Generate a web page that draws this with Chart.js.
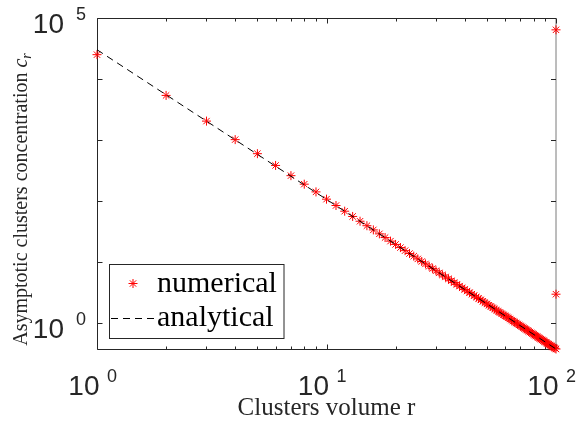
<!DOCTYPE html>
<html>
<head>
<meta charset="utf-8">
<script src="https://cdn.jsdelivr.net/npm/chart.js@4/dist/chart.umd.min.js"></script>
<style>
html,body{margin:0;padding:0;background:#ffffff;}
#wrap{width:579px;height:437px;position:relative;}
canvas{display:block;}
</style>
</head>
<body>
<div id="wrap"><canvas id="c" width="579" height="437" style="width:579px;height:437px"></canvas></div>
<script>
// ---------------- data ----------------
const clusterVolume = [
  1,2,3,4,5,6,7,8,9,10,
  11,12,13,14,15,16,17,18,19,20,
  21,22,23,24,25,26,27,28,29,30,
  31,32,33,34,35,36,37,38,39,40,
  41,42,43,44,45,46,47,48,49,50,
  51,52,53,54,55,56,57,58,59,60,
  61,62,63,64,65,66,67,68,69,70,
  71,72,73,74,75,76,77,78,79,80,
  81,82,83,84,85,86,87,88,89,90,
  91,92,93,94,95,96,97,98,99,100
];
const numericalConc = [
  25100,5400,2050,1020,600,385,262,190,142,108,
  85.0,68.6,56.3,47.0,39.7,33.9,29.2,25.4,22.2,19.6,
  17.4,15.5,13.9,12.6,11.35,10.3,9.40,8.60,7.89,7.26,
  6.70,6.20,5.75,5.35,4.98,4.65,4.34,4.07,3.82,3.59,
  3.38,3.18,3.01,2.84,2.69,2.55,2.42,2.30,2.18,2.08,
  1.98,1.89,1.80,1.72,1.64,1.57,1.51,1.44,1.38,1.33,
  1.28,1.23,1.18,1.13,1.09,1.05,1.01,0.978,0.944,0.911,
  0.880,0.850,0.822,0.795,0.769,0.745,0.721,0.699,0.677,0.657,
  0.637,0.618,0.600,0.583,0.566,0.550,0.535,0.520,0.506,0.492,
  0.479,0.466,0.454,0.442,0.431,0.420,0.410,0.399,0.390,0.380
];
// extra numerical points that sit on the right edge (r = 100)
const edgeVolume = [100, 100];
const edgeConc = [64000, 3.0];

const analyticalVolume = [1, 2, 5, 10, 20, 50, 100];
const analyticalConc = [30200, 5530, 585, 107, 19.6, 2.08, 0.38];

const seriesLabels = ['numerical', 'analytical'];
const xTitle = 'Clusters volume r';
const yTitleText = 'Asymptotic clusters concentration ';
const yTitleSymbol = 'c';
const yTitleSub = 'r';

const xMajorTicks = [1, 10, 100];
const xMajorExp = ['0', '1', '2'];
const xMinorTicks = [2,3,4,5,6,7,8,9,20,30,40,50,60,70,80,90];
const yTicks = [1, 10, 100, 1000, 10000, 100000];
const yLabelTicks = [1, 100000];
const yLabelExp = ['0', '5'];

const xRange = [1, 100];
const yRange = [0.38, 100000];

// ---------------- build datasets ----------------
const numericalPoints = clusterVolume.map((r, i) => ({x: r, y: numericalConc[i]}))
  .concat(edgeVolume.map((r, i) => ({x: r, y: edgeConc[i]})));
const analyticalPoints = analyticalVolume.map((r, i) => ({x: r, y: analyticalConc[i]}));

const INK = '#262626';

const matlabAxes = {
  id: 'matlabAxes',
  beforeDatasetsDraw(chart) {
    const {ctx, chartArea: a, scales: {x, y}} = chart;
    ctx.save();
    ctx.strokeStyle = INK;
    ctx.lineWidth = 1;
    const L = a.left + 0.5, T = a.top + 0.5, R = a.right, B = a.bottom + 0.5;
    ctx.beginPath();
    ctx.moveTo(L, T); ctx.lineTo(R, T);
    ctx.moveTo(L, T); ctx.lineTo(L, B);
    ctx.moveTo(L, B); ctx.lineTo(R, B);
    ctx.stroke();
    ctx.beginPath();
    ctx.strokeStyle = '#7a7a7a';
    ctx.moveTo(R, T - 0.5); ctx.lineTo(R, B + 0.5);
    ctx.stroke();
    ctx.strokeStyle = INK;
    // x ticks
    ctx.beginPath();
    xMajorTicks.forEach(v => {
      const px = Math.round(x.getPixelForValue(v)) + 0.5;
      ctx.moveTo(px, B); ctx.lineTo(px, B - 5);
      ctx.moveTo(px, T); ctx.lineTo(px, T + 5);
    });
    xMinorTicks.forEach(v => {
      const px = Math.round(x.getPixelForValue(v)) + 0.5;
      ctx.moveTo(px, B); ctx.lineTo(px, B - 3);
      ctx.moveTo(px, T); ctx.lineTo(px, T + 3);
    });
    // y ticks
    yTicks.forEach(v => {
      const py = Math.round(y.getPixelForValue(v)) + 0.5;
      ctx.moveTo(L, py); ctx.lineTo(L + 5, py);
      ctx.moveTo(R, py); ctx.lineTo(R - 5, py);
    });
    ctx.stroke();

    // tick labels
    ctx.fillStyle = INK;
    ctx.textBaseline = 'alphabetic';
    xMajorTicks.forEach((v, i) => {
      const px = x.getPixelForValue(v);
      ctx.font = '28px "Liberation Sans", Arial, sans-serif';
      ctx.textAlign = 'right';
      ctx.fillText('10', px + 2.5, a.bottom + 46);
      ctx.font = '18px "Liberation Sans", Arial, sans-serif';
      ctx.textAlign = 'left';
      ctx.fillText(xMajorExp[i], px + 10, a.bottom + 33);
    });
    yLabelTicks.forEach((v, i) => {
      const py = y.getPixelForValue(v);
      ctx.font = '28px "Liberation Sans", Arial, sans-serif';
      ctx.textAlign = 'right';
      ctx.fillText('10', a.left - 33, py + 15);
      ctx.font = '18px "Liberation Sans", Arial, sans-serif';
      ctx.fillText(yLabelExp[i], a.left - 11, py + 2);
    });

    // x title
    ctx.font = '25px "Liberation Serif", "Times New Roman", serif';
    ctx.textAlign = 'center';
    ctx.fillText(xTitle, (a.left + a.right) / 2, 415);

    // y title (rotated) with italic c and subscript r
    ctx.save();
    ctx.translate(27, (a.top + a.bottom) / 2 + 16);
    ctx.rotate(-Math.PI / 2);
    const fMain = '20px "Liberation Serif", "Times New Roman", serif';
    const fIt = 'italic 20px "Liberation Serif", "Times New Roman", serif';
    const fSub = 'italic 14px "Liberation Serif", "Times New Roman", serif';
    ctx.font = fMain; const w1 = ctx.measureText(yTitleText).width;
    ctx.font = fIt; const w2 = ctx.measureText(yTitleSymbol).width;
    ctx.font = fSub; const w3 = ctx.measureText(yTitleSub).width;
    const tot = w1 + w2 + w3;
    let sx = -tot / 2;
    ctx.textAlign = 'left';
    ctx.font = fMain; ctx.fillText(yTitleText, sx, 0); sx += w1;
    ctx.font = fIt; ctx.fillText(yTitleSymbol, sx, 0); sx += w2;
    ctx.font = fSub; ctx.fillText(yTitleSub, sx, 4);
    ctx.restore();
    ctx.restore();
  },
  afterDatasetsDraw(chart) {
    const {ctx} = chart;
    ctx.save();
    // legend box
    const bx = 109.5, by = 264.5, bw = 174.5, bh = 74;
    ctx.fillStyle = '#ffffff';
    ctx.fillRect(bx, by, bw, bh);
    ctx.strokeStyle = INK;
    ctx.lineWidth = 1;
    ctx.strokeRect(bx, by, bw, bh);
    // numerical entry
    ctx.strokeStyle = '#ff0000';
    Chart.helpers.drawPoint(ctx, {pointStyle: 'star', radius: 4.5, rotation: 0, borderWidth: 1}, 133, 283.5);
    // analytical entry
    ctx.strokeStyle = '#000000';
    ctx.setLineDash([7, 5]);
    ctx.beginPath();
    ctx.moveTo(111, 318.5); ctx.lineTo(155, 318.5);
    ctx.stroke();
    ctx.setLineDash([]);
    ctx.fillStyle = '#000000';
    ctx.font = '30px "Liberation Serif", "Times New Roman", serif';
    ctx.textAlign = 'left';
    ctx.textBaseline = 'alphabetic';
    ctx.fillText(seriesLabels[0], 157, 292);
    ctx.fillText(seriesLabels[1], 157, 326);
    ctx.restore();
  }
};

new Chart(document.getElementById('c'), {
  type: 'scatter',
  data: {
    datasets: [
      {
        label: seriesLabels[0],
        data: numericalPoints,
        showLine: false,
        pointStyle: 'star',
        pointRadius: 4.5,
        pointBorderColor: '#ff0000',
        pointBackgroundColor: '#ff0000',
        pointBorderWidth: 1,
        clip: false,
        order: 2
      },
      {
        label: seriesLabels[1],
        data: analyticalPoints,
        showLine: true,
        borderColor: '#000000',
        borderWidth: 1,
        borderDash: [7, 5],
        pointRadius: 0,
        fill: false,
        tension: 0,
        clip: false,
        order: 1
      }
    ]
  },
  options: {
    responsive: false,
    devicePixelRatio: 1,
    animation: false,
    layout: {padding: {left: 97, top: 18, right: 23, bottom: 88}},
    plugins: {legend: {display: false}, tooltip: {enabled: false}, title: {display: false}},
    scales: {
      x: {type: 'logarithmic', min: xRange[0], max: xRange[1], display: false},
      y: {type: 'logarithmic', min: yRange[0], max: yRange[1], display: false}
    }
  },
  plugins: [matlabAxes]
});
</script>
</body>
</html>
